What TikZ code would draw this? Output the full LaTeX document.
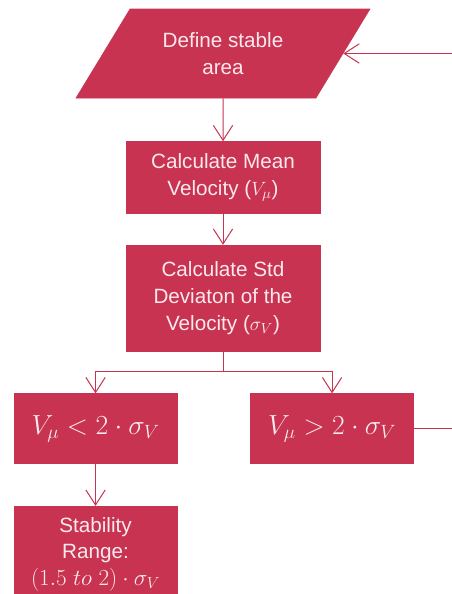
\documentclass[tikz,border=0pt]{standalone}
\usepackage{fontspec}
\setmainfont{Liberation Sans}
\usepackage{tikz}
\usetikzlibrary{arrows.meta,positioning,shapes.geometric}
\definecolor{flowred}{HTML}{C73350}
\definecolor{flowtext}{HTML}{FBE9ED}

\begin{document}
\begin{tikzpicture}[
  node distance=23.25pt,
  box/.style={draw=flowred, fill=flowred, text=flowtext, align=center,
              minimum width=145.5pt, inner sep=2pt,
              font=\fontsize{15.5}{20}\selectfont},
  inputbox/.style={box, trapezium, trapezium left angle=57, trapezium right angle=123,
              trapezium stretches body, inner ysep=15.5pt, minimum width=220.5pt, minimum height=66.75pt},
  testbox/.style={box, minimum width=122.25pt, minimum height=52.5pt,
              font=\fontsize{22}{26}\selectfont},
  arrow/.style={-{Straight Barb[length=11.25pt,width=14.5pt]}, line width=0.75pt, draw=flowred},
  line/.style={line width=0.75pt, draw=flowred}
]
\useasboundingbox (0,0) rectangle (339pt,-445.5pt);
\coordinate (edge) at (339pt,0);

\node[inputbox] (define) at (167.25pt,-40.125pt) {Define stable\\area};
\node[box, minimum height=54pt, below=32.25pt of define] (mean) {Calculate Mean\\Velocity ($V_\mu$)};
\node[box, minimum height=79.5pt, below=of mean] (std) {Calculate Std\\Deviaton of the\\Velocity ($\sigma_V$)};

\node[testbox, below=31.5pt of std, xshift=-95.6pt] (lt) {$V_\mu < 2\cdot\sigma_V$};
\node[testbox, right=54.75pt of lt] (gt) {$V_\mu > 2\cdot\sigma_V$};
\node[box, minimum width=122.25pt, minimum height=72pt, below=31.5pt of lt] (range)
  {Stability\\Range:\\{\fontsize{17.5}{20}\selectfont$(1.5\ to\ 2)\cdot\sigma_V$}};

\coordinate (loopin) at (define.east -| edge);
\coordinate (loopout) at (gt.east -| edge);

\draw[arrow] (loopin) -- (define.east);
\draw[arrow] (define) -- (mean);
\draw[arrow] (mean) -- (std);
\draw[arrow] (std.south) -- ++(0,-15pt) -| (lt.north);
\draw[arrow] (std.south) -- ++(0,-15pt) -| (gt.north);
\draw[arrow] (lt) -- (range);
\draw[line] (gt.east) -- (loopout);
\end{tikzpicture}
\end{document}
